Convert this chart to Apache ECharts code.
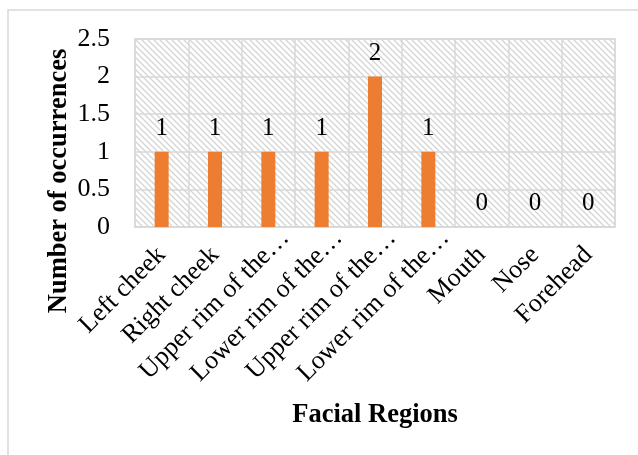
<!DOCTYPE html>
<html>
<head>
<meta charset="utf-8">
<script src="https://cdn.jsdelivr.net/npm/echarts@6/dist/echarts.min.js"></script>
<style>
  html, body { margin: 0; padding: 0; background: #fff; }
  #chart { width: 638px; height: 455px; }
</style>
</head>
<body>
<div id="chart"></div>
<script>
// Facial regions and how often each one occurred
const regions = [
  'Left cheek', 'Right cheek', 'Upper rim of the…', 'Lower rim of the…',
  'Upper rim of the…', 'Lower rim of the…', 'Mouth', 'Nose', 'Forehead'
];
const occurrences = [1, 1, 1, 1, 2, 1, 0, 0, 0];
const yTicks = [0, 0.5, 1, 1.5, 2, 2.5];

const serif = '"Liberation Serif", "Times New Roman", serif';

// Light diagonal hatch used as the plot background
function hatchPattern() {
  const size = 6;
  const c = document.createElement('canvas');
  c.width = size; c.height = size;
  const ctx = c.getContext('2d');
  ctx.fillStyle = '#ffffff';
  ctx.fillRect(0, 0, size, size);
  ctx.strokeStyle = '#d4d4d4';
  ctx.lineWidth = 1.3;
  ctx.beginPath();
  ctx.moveTo(-1, -1); ctx.lineTo(size + 1, size + 1);
  ctx.moveTo(-1, size - 1); ctx.lineTo(1, size + 1);
  ctx.moveTo(size - 1, -1); ctx.lineTo(size + 1, 1);
  ctx.stroke();
  return { image: c, repeat: 'repeat' };
}

// Truncated names sit further along their slant than the short ones
const categoryData = regions.map(function (name) {
  const clipped = name.endsWith('…');
  return clipped
    ? { value: name, textStyle: { padding: [0, -24, 0, 0] } }
    : { value: name };
});

const chart = echarts.init(document.getElementById('chart'), null, { renderer: 'canvas' });

chart.setOption({
  animation: false,
  backgroundColor: '#ffffff',
  grid: {
    left: 135, top: 39, width: 480, height: 188,
    show: true,
    backgroundColor: hatchPattern(),
    borderColor: '#d9d9d9',
    borderWidth: 1.5
  },
  graphic: [
    {
      type: 'rect',
      shape: { x: 8, y: 10, width: 700, height: 500 },
      style: { fill: 'none', stroke: '#d9d9d9', lineWidth: 1.5 },
      silent: true
    },
    {
      type: 'text',
      x: 59, y: 181,
      rotation: Math.PI / 2,
      style: {
        text: 'Number of occurrences',
        font: 'bold 26.5px ' + serif,
        fill: '#000',
        align: 'center',
        verticalAlign: 'middle'
      }
    },
    {
      type: 'text',
      x: 375, y: 415,
      style: {
        text: 'Facial Regions',
        font: 'bold 26.5px ' + serif,
        fill: '#000',
        align: 'center',
        verticalAlign: 'middle'
      }
    }
  ],
  xAxis: {
    type: 'category',
    data: categoryData,
    axisLine: { show: true, lineStyle: { color: '#d9d9d9', width: 1.5 } },
    axisTick: { show: false },
    splitLine: { show: true, lineStyle: { color: '#d9d9d9', width: 1.5 } },
    axisLabel: {
      interval: 0,
      rotate: 45,
      margin: 24,
      color: '#000',
      fontFamily: serif,
      fontSize: 26
    }
  },
  yAxis: {
    type: 'value',
    min: yTicks[0],
    max: yTicks[yTicks.length - 1],
    interval: 0.5,
    axisLine: { show: false },
    axisTick: { show: false },
    splitLine: { show: true, lineStyle: { color: '#d9d9d9', width: 1.5 } },
    axisLabel: {
      margin: 25,
      color: '#000',
      fontFamily: serif,
      fontSize: 26
    }
  },
  series: [{
    type: 'bar',
    data: occurrences,
    barWidth: 14,
    itemStyle: { color: '#ED7D31' },
    label: {
      show: true,
      position: 'top',
      distance: 11,
      color: '#000',
      fontFamily: serif,
      fontSize: 25
    }
  }]
});
</script>
</body>
</html>
